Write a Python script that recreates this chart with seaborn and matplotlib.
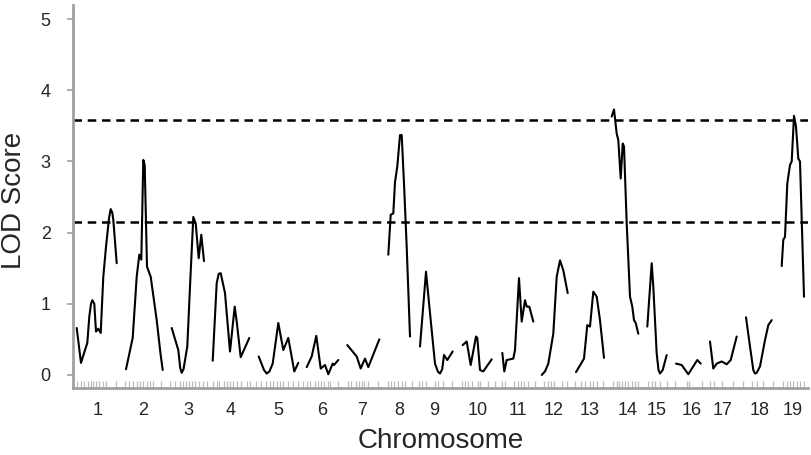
import seaborn as sns
import matplotlib.pyplot as plt
import pandas as pd

sns.set_style("white")
plt.rcParams['font.family'] = ['Liberation Sans', 'DejaVu Sans']

# genome position (cumulative, arbitrary units) and LOD score per chromosome
chr_pos = {
    1: [3.7, 8, 12, 14.3, 16.3, 18, 19.3, 21.3, 23, 25.3, 27.7, 30.3, 33, 36, 37.7, 39.3, 40.3, 43.7],
    2: [53, 59.7, 63.7, 66.3, 68.3, 70.3, 71.7, 74, 77.7, 83.7, 87.5, 89.7],
    3: [98.7, 105.3, 107.2, 108.7, 110.5, 114.3, 117, 120.3, 122.7, 125.7, 128.3, 131],
    4: [139.7, 143.7, 145.7, 147.7, 152, 157, 161.7, 163.7, 167.7, 176.3],
    5: [185.7, 191, 193.7, 196.5, 199.7, 205.3, 210.3, 215.3, 221.3, 225.3],
    6: [233.7, 238.7, 243.3, 247.7, 252, 255.3, 259.7, 261, 265.3],
    7: [274.3, 283.7, 287.7, 292, 295.3, 306.3],
    8: [315.3, 317.7, 320.3, 322, 324.3, 327, 328.7, 331, 333.7, 337],
    9: [347, 353, 357, 362, 364.8, 367, 369.2, 371, 374.3, 379.7],
    10: [389.7, 393.7, 397.7, 403, 404.3, 407, 410.3, 418.7],
    11: [429.3, 431.3, 433.7, 440.3, 442, 446, 448.7, 452, 453.7, 456.3, 460.3],
    12: [468.7, 472, 475.3, 480.3, 483.7, 487, 490.3, 494.7],
    13: [503, 511, 514.3, 517, 520.3, 523.7, 527, 531],
    14: [538.7, 541, 543.7, 545.3, 547.7, 549.7, 551, 553.7, 557, 559.3, 561, 562.7, 565.3],
    15: [574.3, 578.7, 580.3, 583.7, 585.5, 587, 589.7, 593.7],
    16: [603, 608.7, 615.3, 622, 624.3, 627.7],
    17: [637, 640.3, 643.7, 648.7, 653.7, 657.7, 663.7],
    18: [673, 677, 680.3, 682, 683.7, 687, 692, 695.3, 698.7],
    19: [708.7, 710.3, 712, 714.3, 717, 718.7, 721, 723, 725.3, 727, 731],
}
chr_lod = {
    1: [0.66, 0.17, 0.35, 0.45, 0.82, 1.0, 1.05, 1.0, 0.61, 0.65, 0.59, 1.38, 1.8, 2.2, 2.33, 2.28, 2.18, 1.57],
    2: [0.08, 0.52, 1.38, 1.69, 1.62, 3.02, 2.95, 1.52, 1.38, 0.77, 0.3, 0.07],
    3: [0.66, 0.35, 0.1, 0.03, 0.08, 0.4, 1.24, 2.22, 2.13, 1.64, 1.97, 1.6],
    4: [0.2, 1.29, 1.42, 1.43, 1.15, 0.33, 0.96, 0.75, 0.25, 0.52],
    5: [0.26, 0.07, 0.02, 0.05, 0.16, 0.73, 0.35, 0.52, 0.05, 0.17],
    6: [0.11, 0.26, 0.55, 0.09, 0.14, 0.01, 0.16, 0.14, 0.21],
    7: [0.42, 0.26, 0.09, 0.23, 0.11, 0.5],
    8: [1.69, 2.25, 2.27, 2.71, 2.93, 3.37, 3.37, 2.69, 1.8, 0.54],
    9: [0.4, 1.45, 0.87, 0.16, 0.05, 0.02, 0.08, 0.28, 0.21, 0.33],
    10: [0.42, 0.47, 0.14, 0.54, 0.52, 0.07, 0.05, 0.22],
    11: [0.31, 0.05, 0.21, 0.23, 0.35, 1.36, 0.75, 1.05, 0.96, 0.96, 0.75],
    12: [0.0, 0.05, 0.16, 0.58, 1.38, 1.61, 1.47, 1.15],
    13: [0.04, 0.23, 0.7, 0.68, 1.17, 1.1, 0.77, 0.24],
    14: [3.63, 3.73, 3.39, 3.3, 2.76, 3.25, 3.21, 2.13, 1.1, 0.96, 0.77, 0.73, 0.58],
    15: [0.68, 1.57, 1.24, 0.3, 0.07, 0.02, 0.07, 0.28],
    16: [0.16, 0.14, 0.01, 0.16, 0.21, 0.16],
    17: [0.47, 0.09, 0.16, 0.19, 0.15, 0.21, 0.54],
    18: [0.81, 0.4, 0.07, 0.02, 0.03, 0.12, 0.49, 0.7, 0.77],
    19: [1.53, 1.9, 1.94, 2.69, 2.95, 3.0, 3.64, 3.49, 3.04, 3.0, 1.1],
}

chr_centers = [25, 70, 115, 158, 205, 249, 289, 326, 361, 405, 445, 481, 517, 555, 584, 619, 650, 687, 720]
chr_labels = [str(i) for i in range(1, 20)]

markers = [4.3, 7.7, 11, 15.3, 17.7, 20.3, 23, 26.3, 30.3, 33, 43, 52, 56.3, 60.3, 64.3, 67, 69.7,
           74.3, 77, 79.7, 87.7, 97, 102, 107, 110.3, 113, 116.3, 118.7, 122, 126.3, 129.7, 133.7,
           140.3, 143.7, 146.3, 151, 154.3, 157, 159.7, 163.7, 167.7, 173.7, 177, 183, 187.7, 193,
           197, 200.3, 203.7, 207, 210.3, 215.3, 219.7, 225.3, 230.3, 234.3, 237, 242,
           244.7, 248, 251.3, 254.7, 257, 264.7, 274.7, 278, 282.7, 286, 289.3, 291.3, 295.3, 304.7,
           314.7, 318, 321.3, 324.7, 328.7, 332, 338.7, 346, 349.3, 352.7, 362, 365.3, 370.3, 378.7,
           388.7, 392, 395.3, 398.7, 405.3, 407, 415.3, 422, 428.7, 432, 441.3, 444.7, 448, 451.3,
           454.7, 462, 471.3, 474.7, 478, 481.3, 488.7,
           494.3, 502, 507.7, 512, 517, 520.3, 523.7, 530.3, 540.3, 543.7, 546.3, 548.7, 552, 555.3,
           558.7, 562, 565.3, 575.3, 578.7, 582, 587, 593.7, 602, 613.7, 616.3, 628.7, 637, 641,
           648.7, 660.3, 670.3, 678.7, 683.7, 690.3, 700.3, 710.3, 713.7, 717, 720.3, 723.7, 727, 731]

thresholds = [3.58, 2.15]

rows = []
for c in chr_pos:
    for p, l in zip(chr_pos[c], chr_lod[c]):
        rows.append({'chrom': c, 'pos': p, 'lod': l})
df = pd.DataFrame(rows)

fig = plt.figure(figsize=(8.12, 4.55), dpi=100)
ax = fig.add_axes([73 / 812, 1 - 388 / 455, 735 / 812, 383 / 455])

sns.lineplot(data=df, x='pos', y='lod', units='chrom', estimator=None, sort=False,
             color='black', linewidth=1.5, ax=ax)
sns.rugplot(x=markers, height=0.017, color='#bdbdbd', linewidth=0.9, ax=ax)

for t in thresholds:
    ax.axhline(t, color='black', linewidth=1.8, linestyle=(0, (3.4, 2.3)))

ax.set_xlim(0, 735)
ax.set_ylim(-0.183, 5.197)
ax.set_yticks([0, 1, 2, 3, 4, 5])
ax.set_xticks(chr_centers)
ax.set_xticklabels(chr_labels)
ax.tick_params(axis='y', left=True, length=4, width=1.2, color='#a0a0a0', pad=12, labelsize=13)
ax.tick_params(axis='x', bottom=False, length=0, pad=10, labelsize=13)

for s in ['top', 'right']:
    ax.spines[s].set_visible(False)
for s in ['left', 'bottom']:
    ax.spines[s].set_color('#a0a0a0')
    ax.spines[s].set_linewidth(2)

ax.set_xlabel('Chromosome', fontsize=20)
ax.set_ylabel('LOD Score', fontsize=20)
ax.xaxis.set_label_coords(0.5, -0.105)
ax.yaxis.set_label_coords(-0.063, 0.49)

plt.savefig('out.png', dpi=100)
